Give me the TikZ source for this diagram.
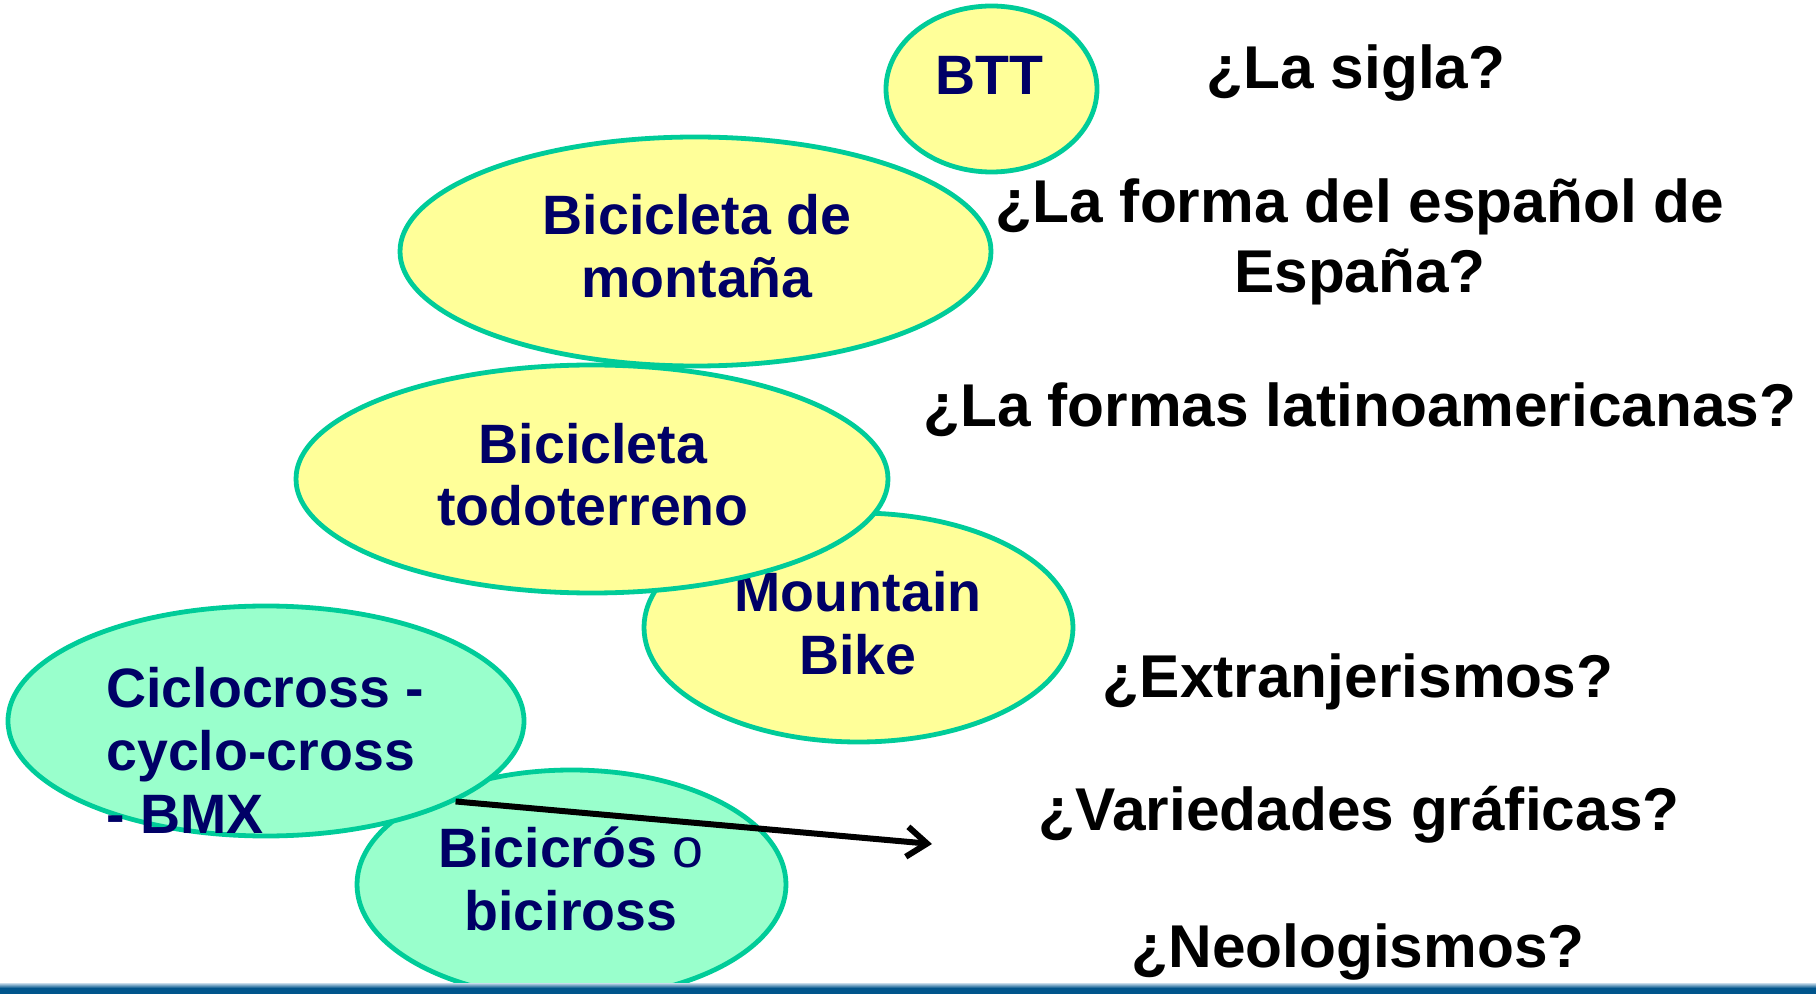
\documentclass[tikz,border=0pt]{standalone}
\usepackage{fontspec}
\setmainfont{Liberation Sans}
\usetikzlibrary{shapes.geometric,arrows.meta}
\definecolor{bubbleyellow}{HTML}{FFFF99}
\definecolor{bubblemint}{HTML}{99FFCC}
\definecolor{bubbleedge}{HTML}{00CC99}
\definecolor{termblue}{HTML}{000066}
\definecolor{barlight}{HTML}{C8DCEB}
\definecolor{bardark}{HTML}{00558C}
\begin{document}
\begin{tikzpicture}[x=0.5pt,y=-0.5pt,
    bubble/.style={ellipse,draw=bubbleedge,line width=2.4pt,fill=bubbleyellow,inner sep=0pt},
    mint/.style={bubble,fill=bubblemint},
    term/.style={text=termblue,font=\fontsize{27.75}{31.5}\selectfont\bfseries,align=center,anchor=base,inner sep=0pt},
    question/.style={font=\fontsize{30.2}{35}\selectfont\bfseries,align=center,anchor=base,inner sep=0pt}]
  \useasboundingbox (0,0) rectangle (1816,994);
  % yellow terms
  \node[bubble,minimum width=214.5pt,minimum height=114.5pt] (mtb) at (858.5,627.5) {};
  \node[term] (mtbText) at (858,674) {Mountain\\Bike};
  \node[bubble,minimum width=296pt,minimum height=114pt] (todo) at (592,479) {};
  \node[term] (todoText) at (593,526) {Bicicleta\\todoterreno};
  \node[bubble,minimum width=295.5pt,minimum height=114.5pt] (monte) at (695.5,251.5) {};
  \node[term] (monteText) at (697,298) {Bicicleta de\\montaña};
  \node[bubble,minimum width=105.5pt,minimum height=83pt] (btt) at (991.5,89) {};
  \node[term] (bttText) at (989,95) {BTT};
  % green terms
  \node[mint,minimum width=214.5pt,minimum height=114.5pt] (bicros) at (571.5,884.5) {};
  \node[term] (bicrosText) at (571,930) {Bicicrós {\mdseries o}\\biciross};
  \node[mint,minimum width=258pt,minimum height=115pt] (cyclo) at (266,721) {};
  \node[term,align=left,anchor=base west] (cycloText) at (106,833) {Ciclocross -\\cyclo-cross\\- BMX};
  \coordinate (varTip) at (932,844);
  \draw[line width=3pt,-{Straight Barb[length=10pt,width=15pt]}] (cyclo.-23.3) -- (varTip);
  % bottom bar
  \shade[top color=barlight,bottom color=bardark] (0,983) rectangle (1816,988);
  \fill[bardark] (0,988) rectangle (1816,994);
  % questions
  \node[question] (sigla) at (1356,89) {¿La sigla?};
  \node[question] (espana) at (1360,293) {¿La forma del español de\\España?};
  \node[question] (latino) at (1360,427) {¿La formas latinoamericanas?};
  \node[question] (extran) at (1358,697) {¿Extranjerismos?};
  \node[question] (grafia) at (1359,830) {¿Variedades gráficas?};
  \node[question] (neolog) at (1358,967) {¿Neologismos?};
\end{tikzpicture}
\end{document}
